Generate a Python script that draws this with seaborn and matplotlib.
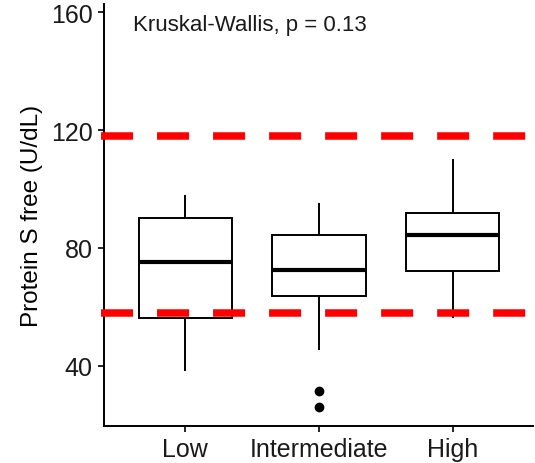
import numpy as np
import pandas as pd
import matplotlib
matplotlib.use('Agg')
import matplotlib.pyplot as plt
import seaborn as sns

# values
groups = ['Low', 'Intermediate', 'High']
low_vals = [38.1, 48.0, 56.2, 66.0, 75.1, 83.0, 90.2, 94.0, 98.1]
intermediate_vals = [26.1, 31.3, 45.2, 63.8, 67.0, 70.5, 72.6, 76.0, 80.0, 84.2, 88.0, 92.0, 95.2]
high_vals = [56.2, 65.0, 72.1, 78.0, 84.2, 88.0, 91.9, 100.0, 110.3]
ref_lines = [118, 58]
y_ticks = [40, 80, 120, 160]
annotation = 'Kruskal-Wallis, p = 0.13'

data = pd.DataFrame({
    'group': ['Low'] * len(low_vals) + ['Intermediate'] * len(intermediate_vals) + ['High'] * len(high_vals),
    'value': low_vals + intermediate_vals + high_vals,
})

sns.set_style('ticks')
plt.rcParams['font.family'] = ['Liberation Sans', 'DejaVu Sans']

fig = plt.figure(figsize=(5.35, 4.64), dpi=100)
ax = fig.add_axes([0.195, 0.0804, 0.8007, 0.9088])

sns.boxplot(data=data, x='group', y='value', order=groups, width=0.70,
            color='white', linecolor='black', linewidth=1.4,
            medianprops={'linewidth': 3.0},
            flierprops={'marker': 'o', 'markerfacecolor': 'black', 'markeredgecolor': 'black', 'markersize': 6},
            capprops={'visible': False},
            ax=ax)

# reference range lines, starting a touch left of the y axis like the original
for yv in ref_lines:
    ax.axhline(yv, xmin=-0.008, xmax=0.99, color='#ff0000', linewidth=5.4,
               dashes=(4.27, 3.2), zorder=5, clip_on=False)

ax.set_xlim(-0.606, 2.6)
ax.set_ylim(19.6, 162.8)
ax.set_yticks(y_ticks)
ax.set_xlabel('')
ax.set_ylabel('Protein S free (U/dL)', fontsize=17.5, color='black', labelpad=6)
ax.tick_params(axis='both', labelsize=18, colors='black', length=4.3, width=1.2,
               pad=4, labelcolor='#1a1a1a')
for side in ['top', 'right']:
    ax.spines[side].set_visible(False)
for side in ['left', 'bottom']:
    ax.spines[side].set_linewidth(1.4)
    ax.spines[side].set_color('black')

ax.text(-0.39, 156, annotation, fontsize=16, va='center', ha='left', color='#1a1a1a')

plt.savefig('out.png', dpi=100)
